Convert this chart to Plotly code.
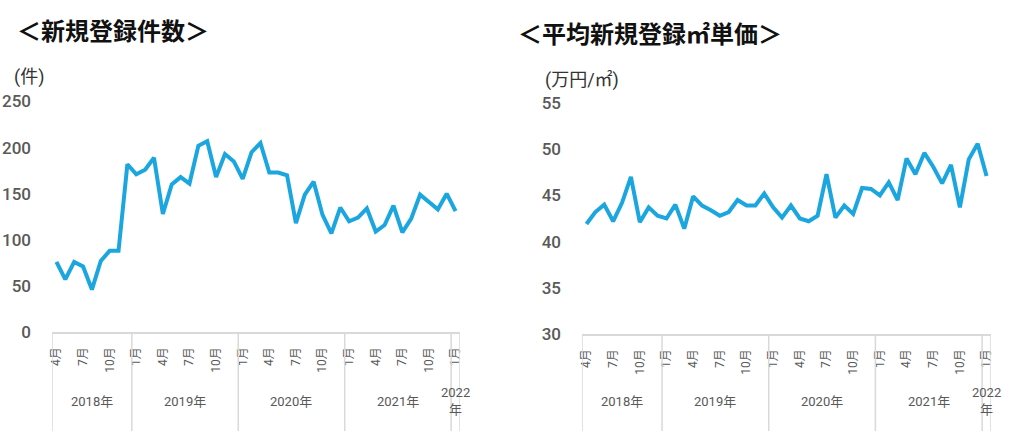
import plotly.graph_objects as go

# ---- data ----
years = [2018] * 9 + [2019] * 12 + [2020] * 12 + [2021] * 12 + [2022] * 1
months = [4, 5, 6, 7, 8, 9, 10, 11, 12] + list(range(1, 13)) * 3 + [1]
counts = [76, 57, 76, 71, 46, 77, 88, 88, 182,
          171, 176, 189, 128, 160, 168, 161, 202, 207, 168, 193, 185,
          166, 195, 205, 173, 173, 170, 118, 149, 163, 127, 107, 135,
          120, 124, 134, 109, 116, 137, 108, 123, 149, 141, 133, 150,
          131]
prices = [41.9, 43.2, 44.0, 42.2, 44.2, 47.0, 42.1, 43.7, 42.8,
          42.5, 44.0, 41.4, 44.9, 43.9, 43.4, 42.8, 43.2, 44.5, 43.9, 43.9, 45.2,
          43.7, 42.6, 43.9, 42.5, 42.2, 42.8, 47.3, 42.6, 43.9, 43.0, 45.8, 45.7,
          45.0, 46.4, 44.5, 49.0, 47.3, 49.6, 48.1, 46.3, 48.3, 43.7, 48.9, 50.6,
          47.1]
label_months = [1, 4, 7, 10]
title_left = "＜新規登録件数＞"
title_right = "＜平均新規登録㎡単価＞"
unit_left = "(件)"
unit_right = "(万円/㎡)"

# ---- derived ----
W, H = 1024, 440
idx = list(range(len(months)))
tickvals = [i for i, m in zip(idx, months) if m in label_months]
ticktext = [f"{months[i]}月" for i in tickvals]

year_list = []
for y in years:
    if y not in year_list:
        year_list.append(y)
year_pos, year_txt, bounds = [], [], [-0.5]
for y in year_list:
    ii = [i for i, yy in zip(idx, years) if yy == y]
    year_pos.append(sum(ii) / len(ii))
    year_txt.append(f"{y}年" if len(ii) > 1 else f"{y}<br>年")
    bounds.append(ii[-1] + 0.5)

LINE = "#1BA6E0"
GRAY = "#D9D9D9"
TXT = "#595959"
FONT = "Roboto, Noto Sans CJK JP, sans-serif"

def px(v):
    return v / W

def py(v):
    return (H - v) / H

dom_l = [px(52), px(460)]
dom_r = [px(582), px(991)]
ydom_l = [py(332), py(101.5)]
ydom_r = [py(334), py(103)]

fig = go.Figure()
fig.add_trace(go.Scatter(x=idx, y=counts, mode="lines", xaxis="x", yaxis="y",
                         line=dict(color=LINE, width=4), showlegend=False))
fig.add_trace(go.Scatter(x=idx, y=prices, mode="lines", xaxis="x2", yaxis="y2",
                         line=dict(color=LINE, width=4), showlegend=False))

xcommon = dict(range=[-0.5, len(idx) - 0.5], tickmode="array", tickvals=tickvals,
               ticktext=ticktext, tickangle=-90, showgrid=False, zeroline=False,
               showline=True, linecolor=GRAY, linewidth=1.5, ticks="",
               automargin=False,
               ticklabelstandoff=9, tickfont=dict(size=12, color=TXT, family=FONT))
ycommon = dict(showgrid=False, zeroline=False, showline=False, ticks="",
               automargin=False,
               ticklabelstandoff=20, tickfont=dict(size=17, color=TXT, family=FONT, weight=500))

fig.update_layout(
    width=W, height=H, autosize=False, margin=dict(l=0, r=0, t=0, b=0, pad=0),
    paper_bgcolor="white", plot_bgcolor="white",
    font=dict(family=FONT), hovermode=False,
    xaxis=dict(domain=dom_l, anchor="y", **xcommon),
    yaxis=dict(domain=ydom_l, anchor="x", range=[0, 250], dtick=50, **ycommon),
    xaxis2=dict(domain=dom_r, anchor="y2", **xcommon),
    yaxis2=dict(domain=ydom_r, anchor="x2", range=[30, 55], dtick=5, **ycommon),
)

shapes = []
annotations = []
for xr, ydom in (("x", ydom_l), ("x2", ydom_r)):
    for b in bounds:
        shapes.append(dict(type="line", xref=xr, yref="paper", x0=b, x1=b,
                           y0=py(431), y1=ydom[0], line=dict(color=GRAY, width=1.5)))
    for xp, t in zip(year_pos, year_txt):
        two = "<br>" in t
        annotations.append(dict(xref=xr, yref="paper", x=xp, y=py(383) if two else py(401),
                                text=t, showarrow=False, xanchor="center",
                                yanchor="top" if two else "middle",
                                font=dict(size=13, color=TXT, family=FONT)))

annotations += [
    dict(xref="paper", yref="paper", x=px(15), y=py(29), text=title_left,
         showarrow=False, xanchor="left", yanchor="middle",
         font=dict(size=24, color="#111111", family="Noto Sans CJK JP", weight=700)),
    dict(xref="paper", yref="paper", x=px(516), y=py(32), text=title_right,
         showarrow=False, xanchor="left", yanchor="middle",
         font=dict(size=24, color="#111111", family="Noto Sans CJK JP", weight=700)),
    dict(xref="paper", yref="paper", x=px(12), y=py(77), text=unit_left,
         showarrow=False, xanchor="left", yanchor="middle",
         font=dict(size=18, color="#333333", family=FONT)),
    dict(xref="paper", yref="paper", x=px(543), y=py(80), text=unit_right,
         showarrow=False, xanchor="left", yanchor="middle",
         font=dict(size=18, color="#333333", family=FONT)),
]
fig.update_layout(shapes=shapes, annotations=annotations)

fig.write_html("out.html", config={"displayModeBar": False, "staticPlot": True},
               post_script="document.body.style.margin='0';")
